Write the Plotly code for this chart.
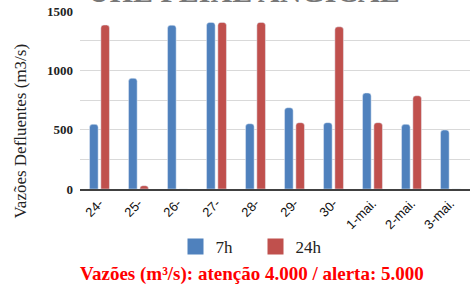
import plotly.graph_objects as go

categories = ["24-", "25-", "26-", "27-", "28-", "29-", "30-", "1-mai.", "2-mai.", "3-mai."]
values_7h = [545, 933, 1380, 1404, 550, 685, 559, 809, 545, 497]
values_24h = [1382, 28, 0, 1404, 1404, 559, 1367, 559, 786, 0]
series_names = ["7h", "24h"]
y_tick_vals = [0, 500, 1000, 1500]

BLUE = "#4f81bd"
RED = "#c0504d"
colors = [BLUE, RED]
SERIF = "Times New Roman, Liberation Serif, serif"

fig = go.Figure()
fig.add_trace(go.Bar(x=categories, y=values_7h, name=series_names[0], showlegend=False,
                     legendgroup=series_names[0],
                     marker=dict(color=BLUE, cornerradius=3)))
fig.add_trace(go.Bar(x=categories, y=values_24h, name=series_names[1], showlegend=False,
                     legendgroup=series_names[1],
                     marker=dict(color=RED, cornerradius=3)))
# legend entries with larger square swatches
for name, col in zip(series_names, colors):
    fig.add_trace(go.Scatter(x=[None], y=[None], mode="markers", name=name, legendgroup=name,
                             marker=dict(symbol="square", size=17, color=col)))

fig.update_layout(
    width=474, height=287,
    margin=dict(l=80, r=4, t=11, b=98, autoexpand=False),
    paper_bgcolor="white", plot_bgcolor="white",
    barmode="group", bargap=0.42, bargroupgap=0.24,
    showlegend=True,
    legend=dict(orientation="h", x=0.45, xanchor="center",
                yref="container", y=1 - 247 / 287, yanchor="middle",
                font=dict(family=SERIF, size=17, color="#222"),
                entrywidthmode="pixels", entrywidth=35, itemsizing="trace",
                itemwidth=30),
    font=dict(family=SERIF),
)
fig.update_yaxes(range=[0, 1500], tickvals=y_tick_vals, ticktext=[str(v) for v in y_tick_vals],
                 showgrid=True, gridcolor="#d9d9d9", gridwidth=1,
                 minor=dict(dtick=250, showgrid=True, gridcolor="#d9d9d9", gridwidth=1),
                 zeroline=False, showline=False, ticks="",
                 tickfont=dict(family=SERIF, size=13, color="#222", weight="bold"),
                 ticklabelstandoff=6, automargin=False)
fig.update_xaxes(showline=True, linecolor="#404040", linewidth=1.5, ticks="",
                 tickangle=-45, automargin=False,
                 tickfont=dict(family="Liberation Sans", size=13, color="#111"))

fig.add_annotation(text="Vazões Defluentes (m3/s)", xref="paper", yref="paper",
                   x=-0.155, y=(287 - 98 - 131) / (287 - 98 - 11), textangle=-90,
                   showarrow=False, xanchor="center", yanchor="middle",
                   font=dict(family=SERIF, size=17, color="#222"))
fig.add_annotation(text="UHE PEIXE ANGICAL", xref="paper", yref="paper",
                   x=0.42, y=1.0 + 1 / 178, xanchor="center", yanchor="bottom",
                   showarrow=False,
                   font=dict(family=SERIF, size=30, color="#777", weight="bold"))
fig.add_annotation(text="Vazões (m³/s): atenção 4.000 / alerta: 5.000", xref="paper", yref="paper",
                   x=(252 - 80) / 390, y=-(274 - 189) / 178, xanchor="center", yanchor="middle",
                   showarrow=False,
                   font=dict(family=SERIF, size=19, color="#ff0000", weight="bold"))

fig.write_html("out.html", config={"displayModeBar": False},
               post_script="document.body.style.margin='0';document.body.style.overflow='hidden';")
